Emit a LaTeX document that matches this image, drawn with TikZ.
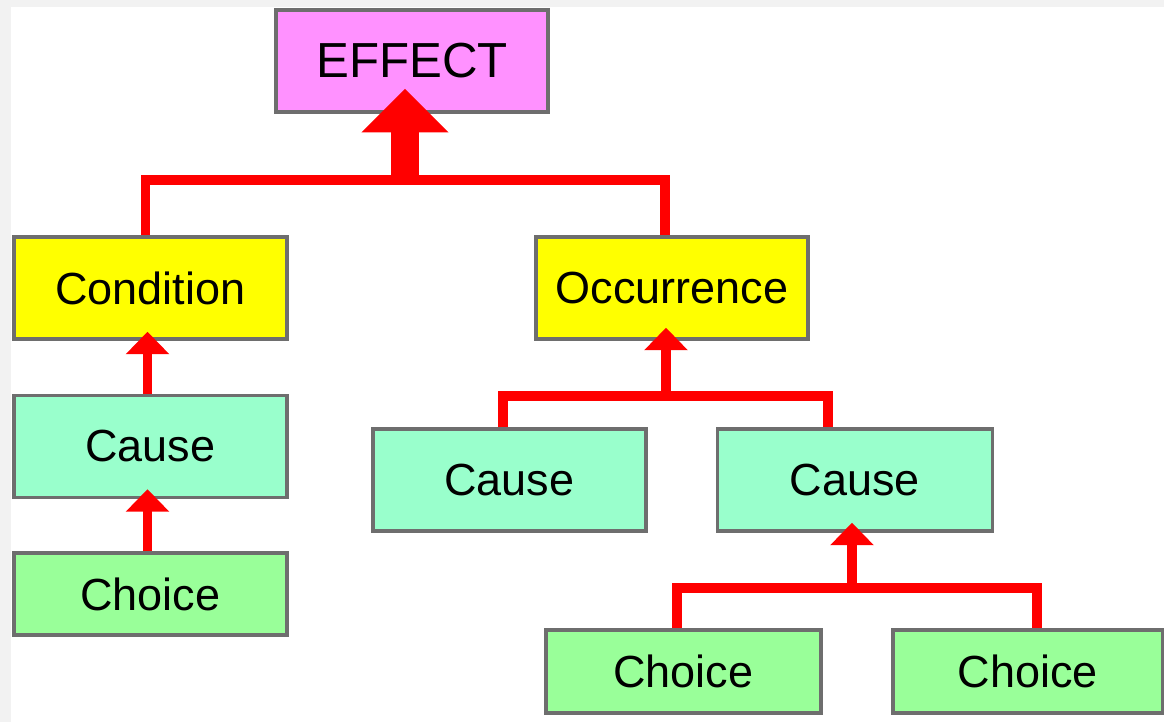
\documentclass[tikz,border=0pt]{standalone}
\usepackage{fontspec}
\setmainfont{Liberation Sans}
\usetikzlibrary{arrows.meta,calc}
\definecolor{effectpink}{HTML}{FF91FF}
\definecolor{condyellow}{HTML}{FFFF00}
\definecolor{causeaqua}{HTML}{99FFCC}
\definecolor{choicegreen}{HTML}{99FF99}
\definecolor{boxgray}{HTML}{6E6E6E}
\definecolor{linkred}{HTML}{FF0000}
\tikzset{
  box/.style={draw=boxgray, line width=2.4pt, inner sep=0pt,
    minimum width=6.83cm, minimum height=2.55cm,
    font=\fontsize{32}{38}\selectfont},
  link/.style={draw=linkred, line width=7pt, line join=miter},
  smallarrow/.style={link, -{Triangle[width=30pt,length=16pt]}},
  bigarrow/.style={draw=linkred, line width=20pt, -{Triangle[width=60pt,length=31pt]}}
}
\begin{document}
\begin{tikzpicture}[x=0.025cm,y=-0.025cm]
  \useasboundingbox (0,0) rectangle (1164,722);
  \fill[black!5] (0,0) rectangle (1164,722);
  \fill[white] (11,7) rectangle (1164,722);

  \node[box, fill=effectpink, minimum width=6.8cm, font=\fontsize{35}{42}\selectfont]
    (effect) at (412,61) {EFFECT};
  \node[box, fill=condyellow] (condition) at (150.5,288) {Condition};
  \node[box, fill=condyellow, minimum width=6.8cm] (occurrence) at (672,288) {Occurrence};
  \node[box, fill=causeaqua] (cause1) at (150.5,446.5) {Cause};
  \node[box, fill=choicegreen, minimum height=2.05cm] (choice1) at (150.5,594) {Choice};
  \node[box, fill=causeaqua] (cause2) at (509.5,480) {Cause};
  \node[box, fill=causeaqua, minimum width=6.88cm] (cause3) at (855,480) {Cause};
  \node[box, fill=choicegreen, minimum width=6.88cm, minimum height=2.08cm] (choice2) at (683.5,671.5) {Choice};
  \node[box, fill=choicegreen, minimum width=6.75cm, minimum height=2.08cm] (choice3) at (1028,671.5) {Choice};

  \coordinate (top joint) at (405,180);
  \coordinate (mid joint) at (666,396);
  \coordinate (low joint) at (852,588);

  \begin{scope}
    \draw[link] ($(condition.north)+(-5,0)$) |- (top joint) -| ($(occurrence.north)+(-7,0)$);
    \draw[bigarrow] (top joint) -- ($(effect.south)+(-7,-25)$);
    \draw[smallarrow] ($(cause1.north)+(-3,0)$) -- ($(condition.south)+(-3,-9)$);
    \draw[smallarrow] ($(choice1.north)+(-3,0)$) -- ($(cause1.south)+(-3,-10)$);
    \draw[link] ($(cause2.north)+(-6.5,0)$) |- (mid joint) -| ($(cause3.north)+(-27,0)$);
    \draw[smallarrow] (mid joint) -- ($(occurrence.south)+(-6,-13)$);
    \draw[link] ($(choice2.north)+(-6.5,0)$) |- (low joint) -| ($(choice3.north)+(9,0)$);
    \draw[smallarrow] (low joint) -- ($(cause3.south)+(-3,-10)$);
  \end{scope}
\end{tikzpicture}
\end{document}
